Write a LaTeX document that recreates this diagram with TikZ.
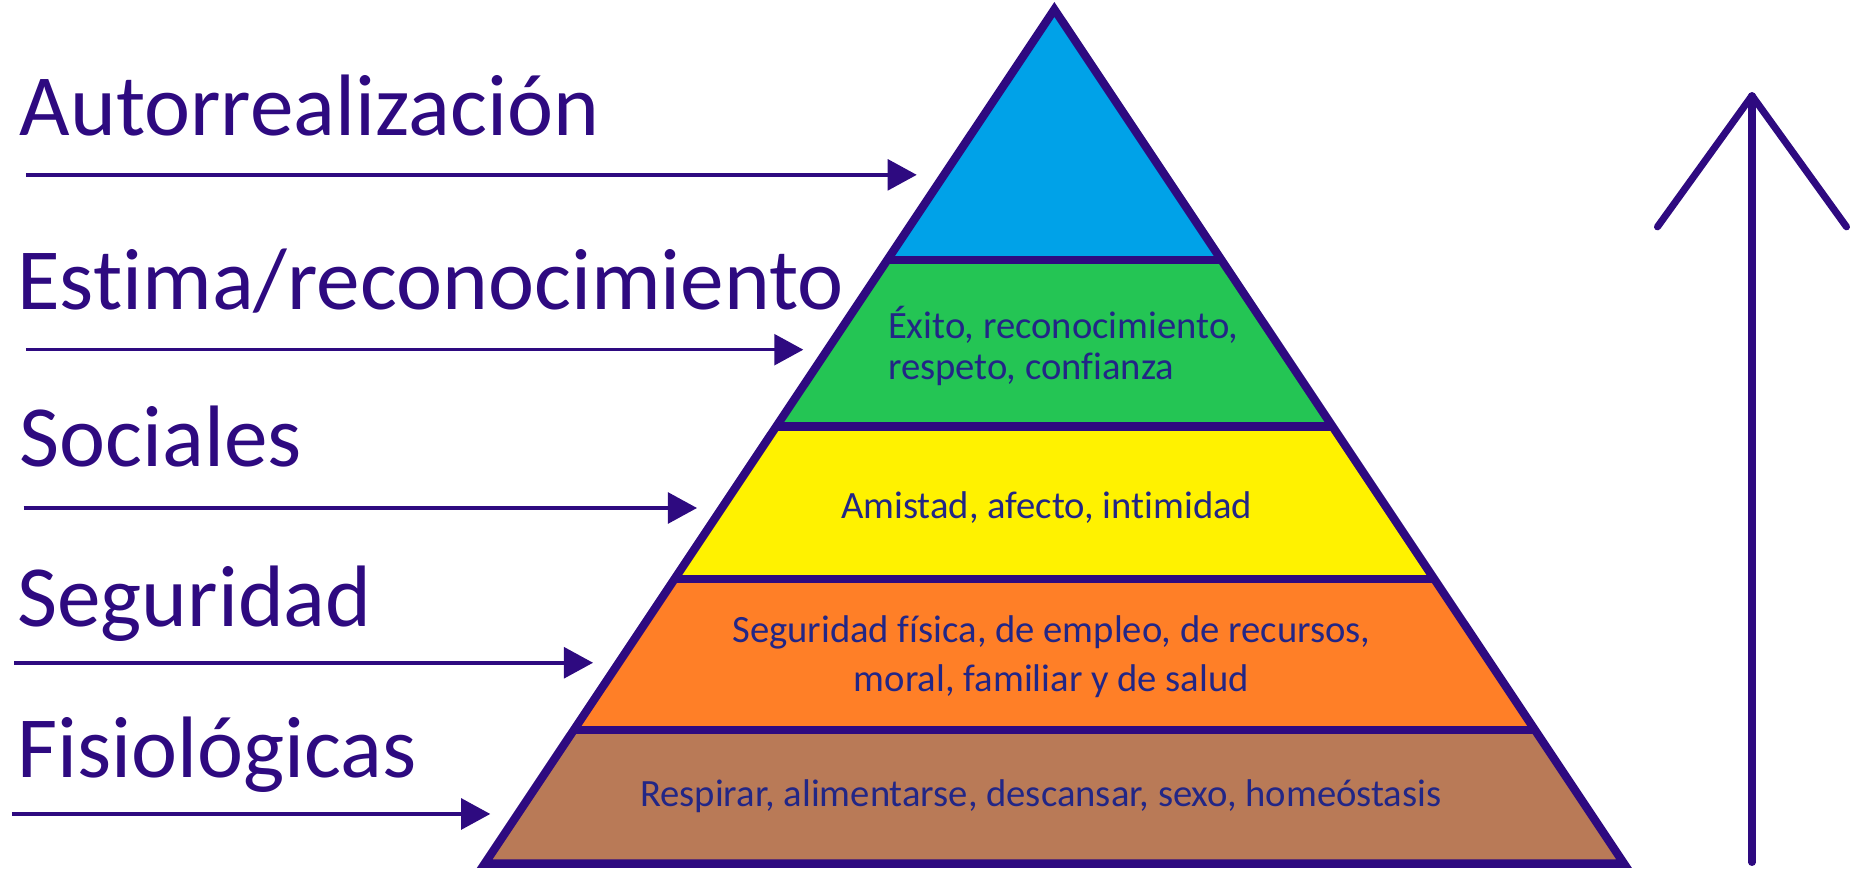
\documentclass[tikz,border=0pt]{standalone}
\usepackage{fontspec}
\setmainfont[Ligatures=NoCommon]{Carlito}
\usetikzlibrary{arrows.meta}
\definecolor{ink}{RGB}{46,10,128}
\definecolor{txt}{RGB}{34,38,134}
\definecolor{cblue}{RGB}{0,162,232}
\definecolor{cgreen}{RGB}{36,197,84}
\definecolor{cyellow}{RGB}{255,242,0}
\definecolor{corange}{RGB}{255,127,39}
\definecolor{cbrown}{RGB}{185,122,87}
\tikzset{
  level/.style={anchor=base west, inner sep=0pt, text=ink, font=\fontsize{21pt}{24pt}\selectfont},
  inbox/.style={inner sep=0pt, text=txt, font=\fontsize{9.3pt}{11pt}\selectfont, align=center},
  pointer/.style={draw=ink, line width=0.85pt, -{Triangle[length=7pt,width=7.4pt]}},
  outline/.style={draw=ink, line width=2pt, line join=miter},
  bigarrow/.style={draw=ink, line width=1.7pt, line cap=round, line join=round}
}
\begin{document}
\begin{tikzpicture}[x=0.01cm,y=-0.01cm]
\useasboundingbox (0,0) rectangle (1568.5,736);
% pyramid coordinates
\coordinate (A) at (892.5,8);
\coordinate (L1) at (751.1,220); \coordinate (R1) at (1033.9,220);
\coordinate (L2) at (657,361);   \coordinate (R2) at (1128,361);
\coordinate (L3) at (571,490);   \coordinate (R3) at (1214,490);
\coordinate (L4) at (485.6,618); \coordinate (R4) at (1299.4,618);
\coordinate (L5) at (410.3,731); \coordinate (R5) at (1374.7,731);
% fills
\fill[cblue] (A) -- (R1) -- (L1) -- cycle;
\fill[cgreen] (L1) -- (R1) -- (R2) -- (L2) -- cycle;
\fill[cyellow] (L2) -- (R2) -- (R3) -- (L3) -- cycle;
\fill[corange] (L3) -- (R3) -- (R4) -- (L4) -- cycle;
\fill[cbrown] (L4) -- (R4) -- (R5) -- (L5) -- cycle;
% dividers
\draw[outline] (L1) -- (R1);
\draw[outline] (L2) -- (R2);
\draw[outline] (L3) -- (R3);
\draw[outline] (L4) -- (R4);
\draw[outline] (A) -- (R5) -- (L5) -- cycle;
% band texts
\node[inbox, align=left, anchor=base west] (t2a) at (751,286.5) {Éxito, reconocimiento,};
\node[inbox, align=left, anchor=base west] (t2b) at (751,321.5) {respeto, confianza};
\node[inbox, anchor=base] (t3) at (886,439) {Amistad, afecto, intimidad};
\node[inbox, anchor=base] (t4a) at (890,544) {Seguridad física, de empleo, de recursos,};
\node[inbox, anchor=base] (t4b) at (890,585) {moral, familiar y de salud};
\node[inbox, anchor=base] (t5) at (881,683) {Respirar, alimentarse, descansar, sexo, homeóstasis};
% left labels
\node[level] (n1) at (16,115) {Autorrealización};
\node[level] (n2) at (14,262) {Estima/reconocimiento};
\node[level] (n3) at (16,395) {Sociales};
\node[level] (n4) at (14,530) {Seguridad};
\node[level] (n5) at (14,658) {Fisiológicas};
% pointer arrows
\coordinate (s1) at (22,148);  \coordinate (e1) at (776,148);
\coordinate (s2) at (22,296);  \coordinate (e2) at (680,296);
\coordinate (s3) at (20,430);  \coordinate (e3) at (590,430);
\coordinate (s4) at (12,561);  \coordinate (e4) at (502,561);
\coordinate (s5) at (10,689);  \coordinate (e5) at (415,689);
\draw[pointer] (s1) -- (e1);
\draw[pointer] (s2) -- (e2);
\draw[pointer] (s3) -- (e3);
\draw[pointer] (s4) -- (e4);
\draw[pointer] (s5) -- (e5);
% big upward arrow
\coordinate (up) at (1483,81);
\coordinate (down) at (1483,730);
\coordinate (hl) at (1403,192);
\coordinate (hr) at (1563,192);
\begin{scope}
\clip (0,0) rectangle (1568.5,736);
\draw[bigarrow] (down) -- (up);
\draw[bigarrow] (hl) -- (up) -- (hr);
\end{scope}
\end{tikzpicture}
\end{document}
